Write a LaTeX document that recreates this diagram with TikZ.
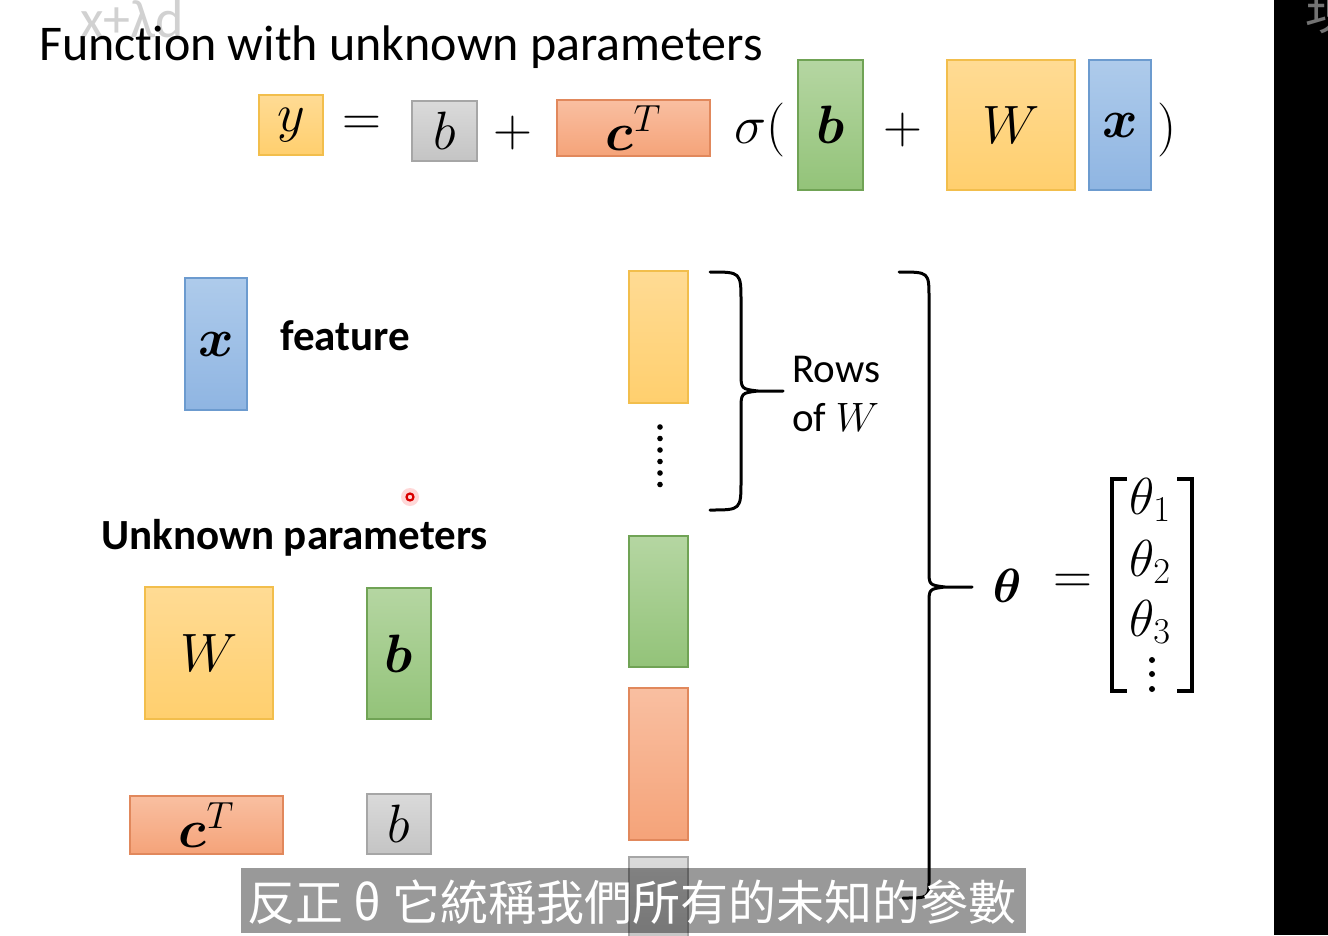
\RequirePackage{fix-cm}
\documentclass[tikz,border=0pt]{standalone}
\usepackage{amsmath,amssymb,bm}
\usepackage{fontspec}
\setmainfont{Carlito}[Ligatures=NoCommon]
\newfontfamily\cjk{Noto Sans CJK TC}
\usetikzlibrary{calc}
\usepackage{xcolor}
\definecolor{ytop}{HTML}{FFDB94}
\definecolor{ybot}{HTML}{FFCF6E}
\definecolor{yline}{HTML}{F2BE4C}
\definecolor{gtop}{HTML}{B5D6A2}
\definecolor{gbot}{HTML}{93C379}
\definecolor{gline}{HTML}{70A355}
\definecolor{otop}{HTML}{F9BFA1}
\definecolor{obot}{HTML}{F5A379}
\definecolor{oline}{HTML}{E1885C}
\definecolor{btop}{HTML}{AECBEB}
\definecolor{bbot}{HTML}{8FB5E2}
\definecolor{bline}{HTML}{6C9BCF}
\definecolor{stop}{HTML}{DADADA}
\definecolor{sbot}{HTML}{C4C4C4}
\definecolor{sline}{HTML}{A6A6A6}

\begin{document}
\begin{tikzpicture}[x=1pt,y=-1pt,
    box/.style={line width=1.5pt,inner sep=0pt,font=\fontsize{54}{60}\selectfont},
    ybox/.style={box,draw=yline,top color=ytop,bottom color=ybot},
    gbox/.style={box,draw=gline,top color=gtop,bottom color=gbot},
    obox/.style={box,draw=oline,top color=otop,bottom color=obot},
    bbox/.style={box,draw=bline,top color=btop,bottom color=bbot},
    sbox/.style={box,draw=sline,top color=stop,bottom color=sbot},
    sym/.style={inner sep=0pt,font=\fontsize{54}{60}\selectfont},
    lbl/.style={inner sep=0pt,font=\fontsize{41}{48}\selectfont},
    brace/.style={line width=3pt,line cap=round,line join=round}]
  \useasboundingbox (0,0) rectangle (1328,935);
  \fill[white] (0,0) rectangle (1328,935);

  % title and equation
  \node[text=black!18,inner sep=0pt,font=\fontsize{54}{60}\selectfont] (wm) at (132,19) {x+λd};
  \node[anchor=base west,inner sep=0pt,font=\fontsize{50}{60}\selectfont] (title) at (39,60) {Funct\kern0pt ion with unknown parameters};
  \node[ybox,minimum width=64,minimum height=60] (y) at (291,125) {$y$};
  \node[sym] (eqa) at (362,126) {$=$};
  \node[sbox,minimum width=65,minimum height=60] (b0) at (444.5,131) {$b$};
  \node[sym] (pa) at (513,133) {$+$};
  \node[obox,minimum width=153,minimum height=56] (c) at (633.5,128) {$\bm{c}^T$};
  \node[sym] (sig) at (760,130) {$\sigma($};
  \node[gbox,minimum width=65,minimum height=130] (b) at (830.5,125) {$\bm{b}$};
  \node[sym] (pb) at (903,130) {$+$};
  \node[ybox,minimum width=128,minimum height=130] (W) at (1011,125) {$W$};
  \node[bbox,minimum width=62,minimum height=130] (x) at (1120,125) {$\bm{x}$};
  \node[sym] (rp) at (1167,130) {$)$};

  % feature and unknown parameters
  \node[bbox,minimum width=62,minimum height=132] (xf) at (216,344) {$\bm{x}$};
  \node[lbl,anchor=base west,font=\fontsize{43}{48}\selectfont\bfseries] (feat) at (280,350) {feature};
  \node[lbl,anchor=base west,font=\fontsize{43}{48}\selectfont\bfseries] (unk) at (101,549) {Unknown parameters};
  \node[ybox,minimum width=128,minimum height=132] (Wp) at (209,653) {$W$};
  \node[gbox,minimum width=64,minimum height=131] (bp) at (399,653.5) {$\bm{b}$};
  \node[obox,minimum width=153,minimum height=58] (cp) at (206.5,825) {$\bm{c}^T$};
  \node[sbox,minimum width=64,minimum height=60] (b0p) at (399,824) {$b$};

  % cursor
  \fill[red!25,opacity=.6] (410,497) circle (9);
  \draw[red!85!black,line width=2.2pt] (410,497) circle (3.5);

  % column of parameters
  \node[ybox,minimum width=59,minimum height=132] (r1) at (658.5,337) {};
  \foreach \k in {0,...,5}
    \fill (660,427+11.5*\k) circle (2.8);
  \node[gbox,minimum width=59,minimum height=131] (r2) at (658.5,601.5) {};
  \node[obox,minimum width=59,minimum height=152] (r3) at (658.5,764) {};
  \node[sbox,minimum width=59,minimum height=90] (r4) at (658.5,902) {};

  % rows of W
  \coordinate (st) at (710,272);
  \coordinate (sb) at (710,510);
  \coordinate (stip) at (783,391);
  \draw[brace] (st) .. controls (741,272) .. (741,302) -- (741,372)
    .. controls (741,389) .. (758,391) -- (stip)
    (758,391) .. controls (741,393) .. (741,410) -- (741,480)
    .. controls (741,510) .. (sb);
  \node[lbl,anchor=base west] (rows) at (792,382) {Rows};
  \node[lbl,anchor=base west] (ofw) at (792,431) {of $W$};

  % theta
  \coordinate (bt) at (899,272);
  \coordinate (bb) at (903,898);
  \coordinate (btip) at (972,587);
  \draw[brace] (bt) .. controls (929,272) .. (929,298) -- (929,570)
    .. controls (929,585) .. (945,587) -- (btip)
    (945,587) .. controls (929,589) .. (929,604) -- (929,880)
    .. controls (929,898) .. (bb);
  \node[sym,font=\fontsize{48}{56}\selectfont] (th) at (1007,586) {$\bm{\theta}$};
  \node[sym] (eqb) at (1073,584) {$=$};
  \draw[line width=3.5pt] (1127,479) -- (1112,479) -- (1112,691) -- (1127,691);
  \draw[line width=3.5pt] (1177,479) -- (1192,479) -- (1192,691) -- (1177,691);
  \node[sym,font=\fontsize{52}{60}\selectfont] (t1) at (1150,500) {$\theta_1$};
  \node[sym,font=\fontsize{52}{60}\selectfont] (t2) at (1150,562) {$\theta_2$};
  \node[sym,font=\fontsize{52}{60}\selectfont] (t3) at (1150,622) {$\theta_3$};
  \foreach \k in {660,674,689}
    \fill (1152,\k) circle (3);

  % subtitle
  \fill[black,fill opacity=.4] (241,868) rectangle (1026,933);
  \node[text=white,inner sep=0pt,font=\cjk\fontsize{48}{56}\selectfont] (sub) at (632,902) {反正 θ 它統稱我們所有的未知的參數};

  % right border
  \fill[black] (1274,0) rectangle (1328,935);
  \begin{scope}
    \clip (1274,0) rectangle (1328,935);
    \node[text=black!55,inner sep=0pt,font=\cjk\fontsize{50}{56}\selectfont] (side) at (1330,12) {現};
  \end{scope}
\end{tikzpicture}
\end{document}
